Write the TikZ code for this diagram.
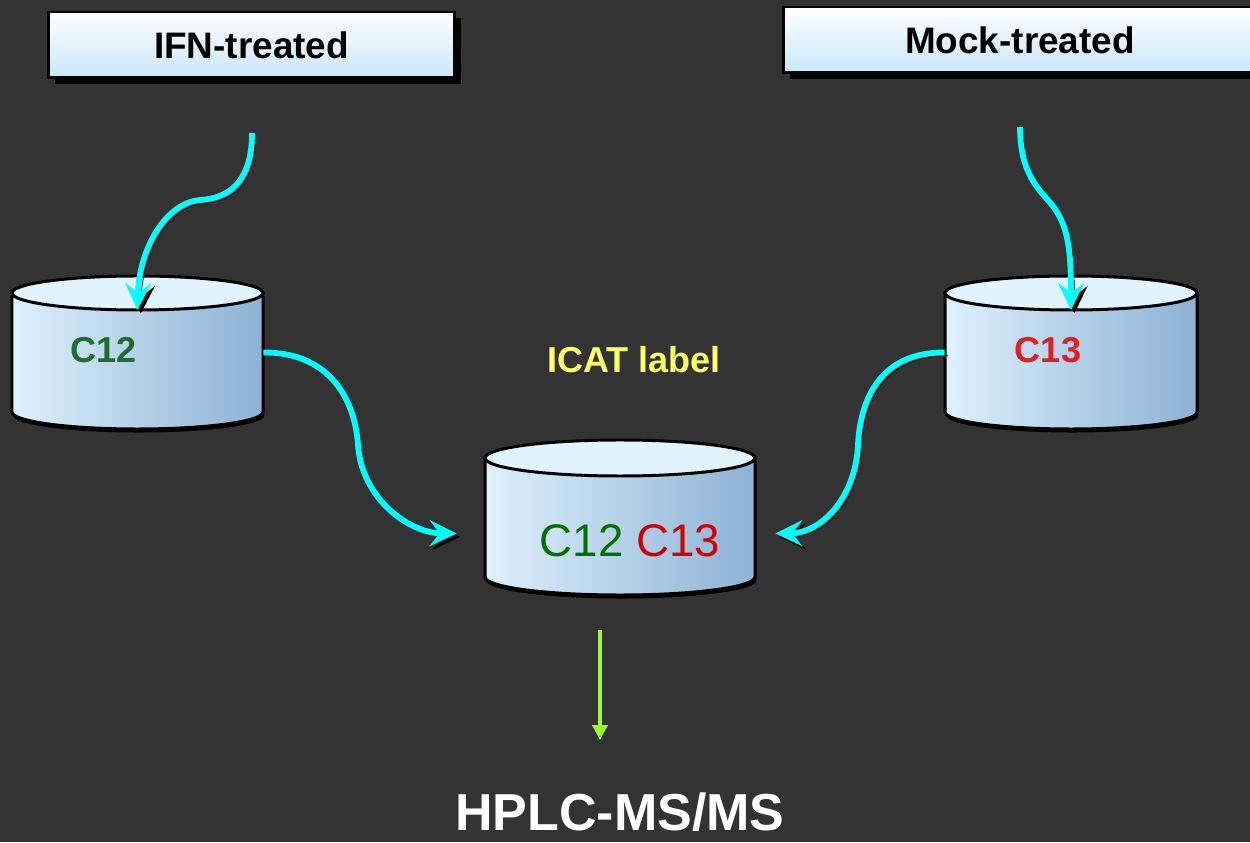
\documentclass[tikz,border=0pt]{standalone}
\usepackage{fontspec}
\setmainfont{Liberation Sans}
\usepackage{tikz}
\usetikzlibrary{calc, positioning, arrows.meta, shadows}
\usepackage{xcolor}
\definecolor{slidegrey}{RGB}{51,51,51}
\definecolor{boxblue}{RGB}{200,230,250}
\definecolor{drumlight}{RGB}{222,241,253}
\definecolor{drumdark}{RGB}{140,178,212}
\definecolor{drumlid}{RGB}{224,243,255}
\definecolor{flowcyan}{RGB}{0,255,255}
\definecolor{passgreen}{RGB}{150,250,50}
\definecolor{lightgreen}{RGB}{30,110,50}
\definecolor{heavyred}{RGB}{225,30,35}
\definecolor{mixgreen}{RGB}{0,112,0}
\definecolor{mixred}{RGB}{210,0,0}
\definecolor{icatyellow}{RGB}{255,255,102}
\tikzset{
    samplebox/.style={draw=black, line width=1.7pt, top color=white, bottom color=boxblue, minimum height=1.32cm, inner sep=0pt, font=\fontsize{21}{25}\selectfont\bfseries,
        drop shadow={shadow xshift=0.13cm, shadow yshift=-0.13cm, fill=black, opacity=1}},
    drumside/.style={draw=black, line width=1.7pt, left color=drumlight, right color=drumdark,
        preaction={fill=black, transform canvas={xshift=0.8pt, yshift=-2pt}}},
    drumlid/.style={draw=black, line width=1.7pt, fill=drumlid},
    drumlabel/.style={font=\fontsize{20.5}{24}\selectfont\bfseries, inner sep=0pt},
    flowarrow/.style={-{Stealth[length=5.4mm, width=5.2mm, inset=2mm]}, line width=3.3pt, draw=flowcyan,
        preaction={draw=black, transform canvas={xshift=1.9pt, yshift=-1.9pt}}},
    passarrow/.style={-{Triangle[length=3mm, width=3mm]}, line width=2.3pt, draw=passgreen},
    note/.style={font=\fontsize{20.5}{24}\selectfont\bfseries, inner sep=0pt}
}
\begin{document}
\begin{tikzpicture}[x=0.02cm,y=0.02cm]
    \clip (0,0) rectangle (1250,842);
    \fill[slidegrey] (0,0) rectangle (1250,842);

    \node[samplebox, minimum width=8.14cm] (ifn) at (251.5,797) {IFN-treated};
    \node[samplebox, minimum width=9.48cm] (mock) at (1020,802) {Mock-treated};

    % drums: name / centre x / top y / bottom y / radii
    \foreach \n/\x/\t/\b/\a/\r in {lite/137.5/549/430/125.5/17, heavy/1071/549/430/126/17, mix/620/384/265/135/18}
    {
        \shadedraw[drumside] (\x-\a,\t) -- (\x-\a,\b) arc[start angle=180, end angle=360, x radius=\a, y radius=\r] -- (\x+\a,\t) -- cycle;
        \filldraw[drumlid] (\x,\t) ellipse[x radius=\a, y radius=\r];
        \node[inner sep=0pt, minimum width=2*\a*0.02cm, minimum height=(\t-\b)*0.02cm] (\n) at (\x,{(\t+\b)/2}) {};
        \coordinate (\n-rim) at (\x,\t-\r);
    }

    \node[drumlabel, text=lightgreen] (liteC) at (104,492) {C12};
    \node[drumlabel, text=heavyred] (heavyC) at (1048,492) {C13};
    \node[inner sep=0pt, font=\fontsize{26}{30}\selectfont] (mixC) at (630,301) {\textcolor{mixgreen}{C12} \textcolor{mixred}{C13}};
    \node[note, text=icatyellow] (icat) at (634,482) {ICAT label};
    \node[inner sep=0pt, text=white, font=\fontsize{29.6}{34}\selectfont\bfseries] (hplc) at (620,29.5) {HPLC-MS/MS};

    \coordinate (ifn-out) at (252,709);
    \coordinate (mock-out) at (1020,715);
    \coordinate (mix-out) at (600,212);
    \coordinate (hplc-in) at (600,102);

    \draw[flowarrow] (ifn-out) .. controls (252,667) and (235,644) .. (200,642) .. controls (165,639) and (139,592) .. (lite-rim);
    \draw[flowarrow] (mock-out) .. controls (1020,667) and (1040,652) .. (1052,637) .. controls (1068,617) and (1071,592) .. (heavy-rim);
    \draw[flowarrow] (lite.east) .. controls (330,490) and (355,442) .. (358,397) .. controls (362,342) and (410,309) .. ([shift={(-28,-16)}]mix.west);
    \draw[flowarrow] (heavy.west) .. controls (880,490) and (860,442) .. (858,397) .. controls (855,342) and (820,309) .. ([shift={(20,-16)}]mix.east);
    \draw[passarrow] (mix-out) -- (hplc-in);
\end{tikzpicture}
\end{document}
